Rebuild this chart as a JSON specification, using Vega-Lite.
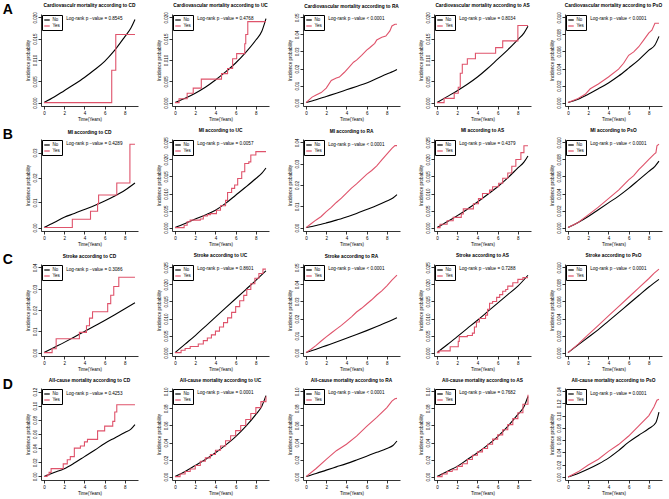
{
"$schema":"https://vega.github.io/schema/vega-lite/v6.json",
"padding":{"left":2,"top":2,"right":2,"bottom":2},
"datasets":{"d":[
{"p":"A1","g":"No","t":0,"y":0},{"p":"A1","g":"No","t":1,"y":0.0013},{"p":"A1","g":"No","t":2,"y":0.0028},{"p":"A1","g":"No","t":3,"y":0.0043},{"p":"A1","g":"No","t":4,"y":0.0059},{"p":"A1","g":"No","t":5,"y":0.0077},{"p":"A1","g":"No","t":6,"y":0.0097},{"p":"A1","g":"No","t":7,"y":0.0123},{"p":"A1","g":"No","t":8,"y":0.0155},{"p":"A1","g":"No","t":8.6,"y":0.0175},{"p":"A1","g":"No","t":9,"y":0.0195},
{"p":"A1","g":"Yes","t":0,"y":0},{"p":"A1","g":"Yes","t":6.7,"y":0.0076},{"p":"A1","g":"Yes","t":7.1,"y":0.016},{"p":"A1","g":"Yes","t":9,"y":0.016},
{"p":"A2","g":"No","t":0,"y":0},{"p":"A2","g":"No","t":1,"y":0.001},{"p":"A2","g":"No","t":2,"y":0.0022},{"p":"A2","g":"No","t":3,"y":0.0036},{"p":"A2","g":"No","t":4,"y":0.0053},{"p":"A2","g":"No","t":5,"y":0.0072},{"p":"A2","g":"No","t":6,"y":0.0093},{"p":"A2","g":"No","t":7,"y":0.0118},{"p":"A2","g":"No","t":8,"y":0.0147},{"p":"A2","g":"No","t":8.6,"y":0.0168},{"p":"A2","g":"No","t":9,"y":0.0197},
{"p":"A2","g":"Yes","t":0,"y":0},{"p":"A2","g":"Yes","t":0.4,"y":0.0009},{"p":"A2","g":"Yes","t":1.2,"y":0.0022},{"p":"A2","g":"Yes","t":1.8,"y":0.0034},{"p":"A2","g":"Yes","t":2.6,"y":0.0055},{"p":"A2","g":"Yes","t":4.6,"y":0.0068},{"p":"A2","g":"Yes","t":5.2,"y":0.008},{"p":"A2","g":"Yes","t":5.7,"y":0.0103},{"p":"A2","g":"Yes","t":6.1,"y":0.0115},{"p":"A2","g":"Yes","t":6.9,"y":0.0138},{"p":"A2","g":"Yes","t":7.0,"y":0.016},{"p":"A2","g":"Yes","t":7.2,"y":0.019},{"p":"A2","g":"Yes","t":9,"y":0.019},
{"p":"A3","g":"No","t":0,"y":0},{"p":"A3","g":"No","t":1,"y":0.0017},{"p":"A3","g":"No","t":2,"y":0.0036},{"p":"A3","g":"No","t":3,"y":0.0055},{"p":"A3","g":"No","t":4,"y":0.0075},{"p":"A3","g":"No","t":5,"y":0.0095},{"p":"A3","g":"No","t":6,"y":0.0115},{"p":"A3","g":"No","t":7,"y":0.0141},{"p":"A3","g":"No","t":8,"y":0.0168},{"p":"A3","g":"No","t":8.6,"y":0.0182},{"p":"A3","g":"No","t":9,"y":0.0194},
{"p":"A3","g":"Yes","t":0,"y":0},{"p":"A3","g":"Yes","t":0.3,"y":0.0016},{"p":"A3","g":"Yes","t":0.6,"y":0.0032},{"p":"A3","g":"Yes","t":1.0,"y":0.0045},{"p":"A3","g":"Yes","t":1.5,"y":0.0059},{"p":"A3","g":"Yes","t":2.0,"y":0.0085},{"p":"A3","g":"Yes","t":2.5,"y":0.013},{"p":"A3","g":"Yes","t":3.0,"y":0.0144},{"p":"A3","g":"Yes","t":3.3,"y":0.015},{"p":"A3","g":"Yes","t":3.8,"y":0.0178},{"p":"A3","g":"Yes","t":4.2,"y":0.0204},{"p":"A3","g":"Yes","t":4.7,"y":0.0237},{"p":"A3","g":"Yes","t":5.0,"y":0.0249},{"p":"A3","g":"Yes","t":5.5,"y":0.0277},{"p":"A3","g":"Yes","t":6.0,"y":0.0308},{"p":"A3","g":"Yes","t":6.3,"y":0.0322},{"p":"A3","g":"Yes","t":6.8,"y":0.0348},{"p":"A3","g":"Yes","t":7.0,"y":0.0368},{"p":"A3","g":"Yes","t":7.5,"y":0.0383},{"p":"A3","g":"Yes","t":7.9,"y":0.0391},{"p":"A3","g":"Yes","t":8.3,"y":0.0421},{"p":"A3","g":"Yes","t":8.5,"y":0.045},{"p":"A3","g":"Yes","t":8.8,"y":0.046},{"p":"A3","g":"Yes","t":9.0,"y":0.046},
{"p":"A4","g":"No","t":0,"y":0},{"p":"A4","g":"No","t":1,"y":0.0014},{"p":"A4","g":"No","t":2,"y":0.0028},{"p":"A4","g":"No","t":3,"y":0.0043},{"p":"A4","g":"No","t":4,"y":0.006},{"p":"A4","g":"No","t":5,"y":0.008},{"p":"A4","g":"No","t":6,"y":0.0102},{"p":"A4","g":"No","t":7,"y":0.0124},{"p":"A4","g":"No","t":8,"y":0.0148},{"p":"A4","g":"No","t":8.6,"y":0.0163},{"p":"A4","g":"No","t":9,"y":0.0179},
{"p":"A4","g":"Yes","t":0,"y":0},{"p":"A4","g":"Yes","t":0.7,"y":0.001},{"p":"A4","g":"Yes","t":1.7,"y":0.0022},{"p":"A4","g":"Yes","t":2.1,"y":0.0036},{"p":"A4","g":"Yes","t":2.3,"y":0.0069},{"p":"A4","g":"Yes","t":2.5,"y":0.009},{"p":"A4","g":"Yes","t":3.0,"y":0.0103},{"p":"A4","g":"Yes","t":3.8,"y":0.0116},{"p":"A4","g":"Yes","t":5.8,"y":0.0129},{"p":"A4","g":"Yes","t":6.5,"y":0.0145},{"p":"A4","g":"Yes","t":8.0,"y":0.0181},{"p":"A4","g":"Yes","t":9,"y":0.0181},
{"p":"A5","g":"No","t":0,"y":0},{"p":"A5","g":"No","t":1,"y":0.0004},{"p":"A5","g":"No","t":2,"y":0.00097},{"p":"A5","g":"No","t":3,"y":0.00162},{"p":"A5","g":"No","t":4,"y":0.00231},{"p":"A5","g":"No","t":5,"y":0.00312},{"p":"A5","g":"No","t":6,"y":0.00405},{"p":"A5","g":"No","t":7,"y":0.00502},{"p":"A5","g":"No","t":8,"y":0.00615},{"p":"A5","g":"No","t":8.6,"y":0.00676},{"p":"A5","g":"No","t":9,"y":0.00777},
{"p":"A5","g":"Yes","t":0,"y":0},{"p":"A5","g":"Yes","t":1,"y":0.00049},{"p":"A5","g":"Yes","t":1.7,"y":0.00097},{"p":"A5","g":"Yes","t":2.2,"y":0.00162},{"p":"A5","g":"Yes","t":3,"y":0.00219},{"p":"A5","g":"Yes","t":4,"y":0.003},{"p":"A5","g":"Yes","t":5,"y":0.00393},{"p":"A5","g":"Yes","t":5.5,"y":0.00462},{"p":"A5","g":"Yes","t":6,"y":0.00555},{"p":"A5","g":"Yes","t":6.5,"y":0.00595},{"p":"A5","g":"Yes","t":7,"y":0.00656},{"p":"A5","g":"Yes","t":7.5,"y":0.00737},{"p":"A5","g":"Yes","t":8,"y":0.00818},{"p":"A5","g":"Yes","t":8.3,"y":0.0085},{"p":"A5","g":"Yes","t":8.6,"y":0.00931},{"p":"A5","g":"Yes","t":9,"y":0.00931},
{"p":"B1","g":"No","t":0,"y":0},{"p":"B1","g":"No","t":1,"y":0.002},{"p":"B1","g":"No","t":2,"y":0.0041},{"p":"B1","g":"No","t":3,"y":0.0056},{"p":"B1","g":"No","t":4,"y":0.0072},{"p":"B1","g":"No","t":5,"y":0.0088},{"p":"B1","g":"No","t":6,"y":0.0106},{"p":"B1","g":"No","t":7,"y":0.0126},{"p":"B1","g":"No","t":8,"y":0.0149},{"p":"B1","g":"No","t":9,"y":0.0178},
{"p":"B1","g":"Yes","t":0,"y":0},{"p":"B1","g":"Yes","t":2.8,"y":0.0033},{"p":"B1","g":"Yes","t":4.6,"y":0.0065},{"p":"B1","g":"Yes","t":5.3,"y":0.0096},{"p":"B1","g":"Yes","t":5.4,"y":0.013},{"p":"B1","g":"Yes","t":7.2,"y":0.0178},{"p":"B1","g":"Yes","t":8.5,"y":0.0333},{"p":"B1","g":"Yes","t":9,"y":0.0333},
{"p":"B2","g":"No","t":0,"y":0},{"p":"B2","g":"No","t":1,"y":0.0012},{"p":"B2","g":"No","t":2,"y":0.0025},{"p":"B2","g":"No","t":3,"y":0.0037},{"p":"B2","g":"No","t":4,"y":0.0051},{"p":"B2","g":"No","t":5,"y":0.0071},{"p":"B2","g":"No","t":6,"y":0.0095},{"p":"B2","g":"No","t":7,"y":0.0119},{"p":"B2","g":"No","t":8,"y":0.0144},{"p":"B2","g":"No","t":8.6,"y":0.016},{"p":"B2","g":"No","t":9,"y":0.0175},
{"p":"B2","g":"Yes","t":0,"y":0},{"p":"B2","g":"Yes","t":0.9,"y":0.0007},{"p":"B2","g":"Yes","t":1.2,"y":0.0017},{"p":"B2","g":"Yes","t":1.5,"y":0.0022},{"p":"B2","g":"Yes","t":2.5,"y":0.0025},{"p":"B2","g":"Yes","t":2.8,"y":0.0034},{"p":"B2","g":"Yes","t":3.2,"y":0.0038},{"p":"B2","g":"Yes","t":3.5,"y":0.0041},{"p":"B2","g":"Yes","t":4.1,"y":0.0051},{"p":"B2","g":"Yes","t":4.5,"y":0.0064},{"p":"B2","g":"Yes","t":5.0,"y":0.008},{"p":"B2","g":"Yes","t":5.2,"y":0.0103},{"p":"B2","g":"Yes","t":5.6,"y":0.0115},{"p":"B2","g":"Yes","t":5.9,"y":0.0125},{"p":"B2","g":"Yes","t":6.2,"y":0.0144},{"p":"B2","g":"Yes","t":6.6,"y":0.0164},{"p":"B2","g":"Yes","t":6.9,"y":0.0188},{"p":"B2","g":"Yes","t":7.3,"y":0.0193},{"p":"B2","g":"Yes","t":7.5,"y":0.0213},{"p":"B2","g":"Yes","t":8.0,"y":0.0223},{"p":"B2","g":"Yes","t":9,"y":0.0223},
{"p":"B3","g":"No","t":0,"y":0},{"p":"B3","g":"No","t":1,"y":0.001},{"p":"B3","g":"No","t":2,"y":0.0022},{"p":"B3","g":"No","t":3,"y":0.0035},{"p":"B3","g":"No","t":4,"y":0.005},{"p":"B3","g":"No","t":5,"y":0.0066},{"p":"B3","g":"No","t":6,"y":0.0085},{"p":"B3","g":"No","t":7,"y":0.0104},{"p":"B3","g":"No","t":8,"y":0.0125},{"p":"B3","g":"No","t":8.6,"y":0.0139},{"p":"B3","g":"No","t":9,"y":0.0155},
{"p":"B3","g":"Yes","t":0,"y":0},{"p":"B3","g":"Yes","t":0.5,"y":0.0018},{"p":"B3","g":"Yes","t":1,"y":0.0036},{"p":"B3","g":"Yes","t":1.5,"y":0.0052},{"p":"B3","g":"Yes","t":2,"y":0.0075},{"p":"B3","g":"Yes","t":2.5,"y":0.0095},{"p":"B3","g":"Yes","t":3,"y":0.0118},{"p":"B3","g":"Yes","t":3.5,"y":0.0138},{"p":"B3","g":"Yes","t":4,"y":0.0162},{"p":"B3","g":"Yes","t":4.5,"y":0.0185},{"p":"B3","g":"Yes","t":5,"y":0.0205},{"p":"B3","g":"Yes","t":5.5,"y":0.0228},{"p":"B3","g":"Yes","t":6,"y":0.025},{"p":"B3","g":"Yes","t":6.5,"y":0.0268},{"p":"B3","g":"Yes","t":7,"y":0.029},{"p":"B3","g":"Yes","t":7.5,"y":0.0318},{"p":"B3","g":"Yes","t":8,"y":0.0345},{"p":"B3","g":"Yes","t":8.5,"y":0.0372},{"p":"B3","g":"Yes","t":8.8,"y":0.0385},{"p":"B3","g":"Yes","t":9,"y":0.0385},
{"p":"B4","g":"No","t":0,"y":0},{"p":"B4","g":"No","t":1,"y":0.0017},{"p":"B4","g":"No","t":2,"y":0.0035},{"p":"B4","g":"No","t":3,"y":0.0054},{"p":"B4","g":"No","t":4,"y":0.0075},{"p":"B4","g":"No","t":5,"y":0.0097},{"p":"B4","g":"No","t":6,"y":0.012},{"p":"B4","g":"No","t":7,"y":0.0146},{"p":"B4","g":"No","t":8,"y":0.0175},{"p":"B4","g":"No","t":8.6,"y":0.0192},{"p":"B4","g":"No","t":9,"y":0.021},
{"p":"B4","g":"Yes","t":0,"y":0},{"p":"B4","g":"Yes","t":0.3,"y":0.001},{"p":"B4","g":"Yes","t":1,"y":0.002},{"p":"B4","g":"Yes","t":1.6,"y":0.003},{"p":"B4","g":"Yes","t":2.4,"y":0.004},{"p":"B4","g":"Yes","t":2.6,"y":0.0055},{"p":"B4","g":"Yes","t":3.6,"y":0.007},{"p":"B4","g":"Yes","t":4.1,"y":0.0085},{"p":"B4","g":"Yes","t":4.5,"y":0.01},{"p":"B4","g":"Yes","t":5.2,"y":0.011},{"p":"B4","g":"Yes","t":5.5,"y":0.012},{"p":"B4","g":"Yes","t":6.1,"y":0.013},{"p":"B4","g":"Yes","t":6.5,"y":0.0145},{"p":"B4","g":"Yes","t":7.0,"y":0.016},{"p":"B4","g":"Yes","t":7.4,"y":0.018},{"p":"B4","g":"Yes","t":7.8,"y":0.02},{"p":"B4","g":"Yes","t":8.3,"y":0.022},{"p":"B4","g":"Yes","t":8.6,"y":0.024},{"p":"B4","g":"Yes","t":9,"y":0.024},
{"p":"B5","g":"No","t":0,"y":0},{"p":"B5","g":"No","t":1,"y":0.0006},{"p":"B5","g":"No","t":2,"y":0.0013},{"p":"B5","g":"No","t":3,"y":0.0021},{"p":"B5","g":"No","t":4,"y":0.0029},{"p":"B5","g":"No","t":5,"y":0.0037},{"p":"B5","g":"No","t":6,"y":0.0046},{"p":"B5","g":"No","t":7,"y":0.0056},{"p":"B5","g":"No","t":8,"y":0.0066},{"p":"B5","g":"No","t":8.6,"y":0.0072},{"p":"B5","g":"No","t":9,"y":0.0078},
{"p":"B5","g":"Yes","t":0,"y":0},{"p":"B5","g":"Yes","t":1,"y":0.0006},{"p":"B5","g":"Yes","t":2,"y":0.0015},{"p":"B5","g":"Yes","t":3,"y":0.0024},{"p":"B5","g":"Yes","t":4,"y":0.0034},{"p":"B5","g":"Yes","t":5,"y":0.0044},{"p":"B5","g":"Yes","t":6,"y":0.0056},{"p":"B5","g":"Yes","t":6.5,"y":0.0061},{"p":"B5","g":"Yes","t":7,"y":0.0068},{"p":"B5","g":"Yes","t":7.5,"y":0.0074},{"p":"B5","g":"Yes","t":8,"y":0.008},{"p":"B5","g":"Yes","t":8.5,"y":0.0086},{"p":"B5","g":"Yes","t":8.7,"y":0.0088},{"p":"B5","g":"Yes","t":8.8,"y":0.0096},{"p":"B5","g":"Yes","t":9,"y":0.0098},
{"p":"C1","g":"No","t":0,"y":0},{"p":"C1","g":"No","t":1,"y":0.0024},{"p":"C1","g":"No","t":2,"y":0.0048},{"p":"C1","g":"No","t":3,"y":0.0073},{"p":"C1","g":"No","t":4,"y":0.0099},{"p":"C1","g":"No","t":5,"y":0.0125},{"p":"C1","g":"No","t":6,"y":0.0151},{"p":"C1","g":"No","t":7,"y":0.0178},{"p":"C1","g":"No","t":8,"y":0.0206},{"p":"C1","g":"No","t":9,"y":0.0234},
{"p":"C1","g":"Yes","t":0,"y":0},{"p":"C1","g":"Yes","t":0.8,"y":0.0018},{"p":"C1","g":"Yes","t":1.2,"y":0.0065},{"p":"C1","g":"Yes","t":3.5,"y":0.0095},{"p":"C1","g":"Yes","t":4.2,"y":0.0126},{"p":"C1","g":"Yes","t":4.5,"y":0.0162},{"p":"C1","g":"Yes","t":4.8,"y":0.0192},{"p":"C1","g":"Yes","t":6.3,"y":0.023},{"p":"C1","g":"Yes","t":6.6,"y":0.0269},{"p":"C1","g":"Yes","t":6.9,"y":0.031},{"p":"C1","g":"Yes","t":7.4,"y":0.0354},{"p":"C1","g":"Yes","t":9,"y":0.0354},
{"p":"C2","g":"No","t":0,"y":0},{"p":"C2","g":"No","t":1,"y":0.0025},{"p":"C2","g":"No","t":2,"y":0.005},{"p":"C2","g":"No","t":3,"y":0.0077},{"p":"C2","g":"No","t":4,"y":0.0104},{"p":"C2","g":"No","t":5,"y":0.0131},{"p":"C2","g":"No","t":6,"y":0.0158},{"p":"C2","g":"No","t":7,"y":0.0185},{"p":"C2","g":"No","t":8,"y":0.0212},{"p":"C2","g":"No","t":9,"y":0.024},
{"p":"C2","g":"Yes","t":0,"y":0},{"p":"C2","g":"Yes","t":0.6,"y":0.0007},{"p":"C2","g":"Yes","t":1.0,"y":0.0012},{"p":"C2","g":"Yes","t":1.5,"y":0.0018},{"p":"C2","g":"Yes","t":2.3,"y":0.0025},{"p":"C2","g":"Yes","t":2.8,"y":0.0035},{"p":"C2","g":"Yes","t":3.2,"y":0.0043},{"p":"C2","g":"Yes","t":3.6,"y":0.0052},{"p":"C2","g":"Yes","t":4.0,"y":0.0063},{"p":"C2","g":"Yes","t":4.4,"y":0.0075},{"p":"C2","g":"Yes","t":4.8,"y":0.0088},{"p":"C2","g":"Yes","t":5.2,"y":0.0102},{"p":"C2","g":"Yes","t":5.6,"y":0.0118},{"p":"C2","g":"Yes","t":6.0,"y":0.0135},{"p":"C2","g":"Yes","t":6.4,"y":0.0152},{"p":"C2","g":"Yes","t":6.8,"y":0.0168},{"p":"C2","g":"Yes","t":7.1,"y":0.0185},{"p":"C2","g":"Yes","t":7.5,"y":0.0202},{"p":"C2","g":"Yes","t":7.9,"y":0.0218},{"p":"C2","g":"Yes","t":8.3,"y":0.0232},{"p":"C2","g":"Yes","t":8.7,"y":0.0245},{"p":"C2","g":"Yes","t":9,"y":0.0245},
{"p":"C3","g":"No","t":0,"y":0},{"p":"C3","g":"No","t":1,"y":0.002},{"p":"C3","g":"No","t":2,"y":0.0041},{"p":"C3","g":"No","t":3,"y":0.0062},{"p":"C3","g":"No","t":4,"y":0.0084},{"p":"C3","g":"No","t":5,"y":0.0106},{"p":"C3","g":"No","t":6,"y":0.0129},{"p":"C3","g":"No","t":7,"y":0.0153},{"p":"C3","g":"No","t":8,"y":0.0178},{"p":"C3","g":"No","t":9,"y":0.0205},
{"p":"C3","g":"Yes","t":0,"y":0},{"p":"C3","g":"Yes","t":0.5,"y":0.002},{"p":"C3","g":"Yes","t":1,"y":0.0042},{"p":"C3","g":"Yes","t":1.5,"y":0.0068},{"p":"C3","g":"Yes","t":2,"y":0.0092},{"p":"C3","g":"Yes","t":2.5,"y":0.0115},{"p":"C3","g":"Yes","t":3,"y":0.0138},{"p":"C3","g":"Yes","t":3.5,"y":0.016},{"p":"C3","g":"Yes","t":4,"y":0.0185},{"p":"C3","g":"Yes","t":4.5,"y":0.021},{"p":"C3","g":"Yes","t":5,"y":0.0238},{"p":"C3","g":"Yes","t":5.5,"y":0.026},{"p":"C3","g":"Yes","t":6,"y":0.0285},{"p":"C3","g":"Yes","t":6.5,"y":0.031},{"p":"C3","g":"Yes","t":7,"y":0.0338},{"p":"C3","g":"Yes","t":7.5,"y":0.0362},{"p":"C3","g":"Yes","t":8,"y":0.0392},{"p":"C3","g":"Yes","t":8.5,"y":0.0425},{"p":"C3","g":"Yes","t":9,"y":0.0455},
{"p":"C4","g":"No","t":0,"y":0},{"p":"C4","g":"No","t":1,"y":0.0023},{"p":"C4","g":"No","t":2,"y":0.0047},{"p":"C4","g":"No","t":3,"y":0.0071},{"p":"C4","g":"No","t":4,"y":0.0095},{"p":"C4","g":"No","t":5,"y":0.012},{"p":"C4","g":"No","t":6,"y":0.0145},{"p":"C4","g":"No","t":7,"y":0.017},{"p":"C4","g":"No","t":8,"y":0.0195},{"p":"C4","g":"No","t":9,"y":0.0227},
{"p":"C4","g":"Yes","t":0,"y":0},{"p":"C4","g":"Yes","t":0.2,"y":0.0005},{"p":"C4","g":"Yes","t":1.3,"y":0.0017},{"p":"C4","g":"Yes","t":2.1,"y":0.0033},{"p":"C4","g":"Yes","t":2.2,"y":0.0047},{"p":"C4","g":"Yes","t":3.0,"y":0.005},{"p":"C4","g":"Yes","t":3.5,"y":0.0057},{"p":"C4","g":"Yes","t":3.7,"y":0.0075},{"p":"C4","g":"Yes","t":3.9,"y":0.009},{"p":"C4","g":"Yes","t":4.2,"y":0.01},{"p":"C4","g":"Yes","t":4.8,"y":0.011},{"p":"C4","g":"Yes","t":5.0,"y":0.0127},{"p":"C4","g":"Yes","t":5.2,"y":0.0145},{"p":"C4","g":"Yes","t":5.5,"y":0.015},{"p":"C4","g":"Yes","t":5.9,"y":0.0162},{"p":"C4","g":"Yes","t":6.2,"y":0.017},{"p":"C4","g":"Yes","t":6.5,"y":0.018},{"p":"C4","g":"Yes","t":6.8,"y":0.0185},{"p":"C4","g":"Yes","t":7.0,"y":0.0195},{"p":"C4","g":"Yes","t":7.5,"y":0.0205},{"p":"C4","g":"Yes","t":8.0,"y":0.0215},{"p":"C4","g":"Yes","t":8.5,"y":0.022},{"p":"C4","g":"Yes","t":9,"y":0.022},
{"p":"C5","g":"No","t":0,"y":0},{"p":"C5","g":"No","t":1,"y":0.0009},{"p":"C5","g":"No","t":2,"y":0.0018},{"p":"C5","g":"No","t":3,"y":0.0027},{"p":"C5","g":"No","t":4,"y":0.0037},{"p":"C5","g":"No","t":5,"y":0.0047},{"p":"C5","g":"No","t":6,"y":0.0057},{"p":"C5","g":"No","t":7,"y":0.0067},{"p":"C5","g":"No","t":8,"y":0.0077},{"p":"C5","g":"No","t":9,"y":0.0086},
{"p":"C5","g":"Yes","t":0,"y":0},{"p":"C5","g":"Yes","t":1,"y":0.001},{"p":"C5","g":"Yes","t":2,"y":0.0021},{"p":"C5","g":"Yes","t":3,"y":0.0032},{"p":"C5","g":"Yes","t":4,"y":0.0043},{"p":"C5","g":"Yes","t":5,"y":0.0054},{"p":"C5","g":"Yes","t":6,"y":0.0065},{"p":"C5","g":"Yes","t":7,"y":0.0076},{"p":"C5","g":"Yes","t":8,"y":0.0087},{"p":"C5","g":"Yes","t":8.5,"y":0.0093},{"p":"C5","g":"Yes","t":9,"y":0.0098},
{"p":"D1","g":"No","t":0,"y":0},{"p":"D1","g":"No","t":1,"y":0.0055},{"p":"D1","g":"No","t":2,"y":0.011},{"p":"D1","g":"No","t":3,"y":0.019},{"p":"D1","g":"No","t":4,"y":0.028},{"p":"D1","g":"No","t":5,"y":0.037},{"p":"D1","g":"No","t":6,"y":0.0467},{"p":"D1","g":"No","t":7,"y":0.0545},{"p":"D1","g":"No","t":8,"y":0.0622},{"p":"D1","g":"No","t":8.6,"y":0.067},{"p":"D1","g":"No","t":9,"y":0.0733},
{"p":"D1","g":"Yes","t":0,"y":0},{"p":"D1","g":"Yes","t":0.3,"y":0.0022},{"p":"D1","g":"Yes","t":0.5,"y":0.0058},{"p":"D1","g":"Yes","t":0.7,"y":0.0111},{"p":"D1","g":"Yes","t":1.9,"y":0.0178},{"p":"D1","g":"Yes","t":2.3,"y":0.0236},{"p":"D1","g":"Yes","t":2.6,"y":0.028},{"p":"D1","g":"Yes","t":3.0,"y":0.04},{"p":"D1","g":"Yes","t":3.6,"y":0.0431},{"p":"D1","g":"Yes","t":4.0,"y":0.0489},{"p":"D1","g":"Yes","t":4.3,"y":0.0524},{"p":"D1","g":"Yes","t":5.3,"y":0.0644},{"p":"D1","g":"Yes","t":6.0,"y":0.0711},{"p":"D1","g":"Yes","t":6.8,"y":0.0778},{"p":"D1","g":"Yes","t":7.0,"y":0.0911},{"p":"D1","g":"Yes","t":7.2,"y":0.1013},{"p":"D1","g":"Yes","t":9,"y":0.1013},
{"p":"D2","g":"No","t":0,"y":0},{"p":"D2","g":"No","t":1,"y":0.006},{"p":"D2","g":"No","t":2,"y":0.013},{"p":"D2","g":"No","t":3,"y":0.02},{"p":"D2","g":"No","t":4,"y":0.028},{"p":"D2","g":"No","t":5,"y":0.037},{"p":"D2","g":"No","t":6,"y":0.047},{"p":"D2","g":"No","t":7,"y":0.059},{"p":"D2","g":"No","t":8,"y":0.073},{"p":"D2","g":"No","t":8.6,"y":0.083},{"p":"D2","g":"No","t":9,"y":0.095},
{"p":"D2","g":"Yes","t":0,"y":0},{"p":"D2","g":"Yes","t":0.5,"y":0.003},{"p":"D2","g":"Yes","t":1,"y":0.006},{"p":"D2","g":"Yes","t":1.5,"y":0.009},{"p":"D2","g":"Yes","t":2,"y":0.013},{"p":"D2","g":"Yes","t":2.5,"y":0.018},{"p":"D2","g":"Yes","t":3,"y":0.022},{"p":"D2","g":"Yes","t":3.5,"y":0.026},{"p":"D2","g":"Yes","t":4,"y":0.031},{"p":"D2","g":"Yes","t":4.5,"y":0.036},{"p":"D2","g":"Yes","t":5,"y":0.042},{"p":"D2","g":"Yes","t":5.5,"y":0.048},{"p":"D2","g":"Yes","t":6,"y":0.054},{"p":"D2","g":"Yes","t":6.5,"y":0.06},{"p":"D2","g":"Yes","t":7,"y":0.067},{"p":"D2","g":"Yes","t":7.5,"y":0.074},{"p":"D2","g":"Yes","t":8,"y":0.081},{"p":"D2","g":"Yes","t":8.5,"y":0.088},{"p":"D2","g":"Yes","t":9,"y":0.094},
{"p":"D3","g":"No","t":0,"y":0},{"p":"D3","g":"No","t":1,"y":0.0036},{"p":"D3","g":"No","t":2,"y":0.0076},{"p":"D3","g":"No","t":3,"y":0.0114},{"p":"D3","g":"No","t":4,"y":0.0152},{"p":"D3","g":"No","t":5,"y":0.0195},{"p":"D3","g":"No","t":6,"y":0.024},{"p":"D3","g":"No","t":7,"y":0.0285},{"p":"D3","g":"No","t":8,"y":0.0331},{"p":"D3","g":"No","t":8.6,"y":0.0365},{"p":"D3","g":"No","t":9,"y":0.0418},
{"p":"D3","g":"Yes","t":0,"y":0},{"p":"D3","g":"Yes","t":1,"y":0.0095},{"p":"D3","g":"Yes","t":2,"y":0.0202},{"p":"D3","g":"Yes","t":3,"y":0.0304},{"p":"D3","g":"Yes","t":3.5,"y":0.0342},{"p":"D3","g":"Yes","t":4,"y":0.038},{"p":"D3","g":"Yes","t":5,"y":0.0475},{"p":"D3","g":"Yes","t":6,"y":0.0589},{"p":"D3","g":"Yes","t":7,"y":0.0696},{"p":"D3","g":"Yes","t":8,"y":0.081},{"p":"D3","g":"Yes","t":8.5,"y":0.0886},{"p":"D3","g":"Yes","t":8.8,"y":0.0913},{"p":"D3","g":"Yes","t":9,"y":0.0918},
{"p":"D4","g":"No","t":0,"y":0},{"p":"D4","g":"No","t":1,"y":0.006},{"p":"D4","g":"No","t":2,"y":0.012},{"p":"D4","g":"No","t":3,"y":0.02},{"p":"D4","g":"No","t":4,"y":0.028},{"p":"D4","g":"No","t":5,"y":0.037},{"p":"D4","g":"No","t":6,"y":0.047},{"p":"D4","g":"No","t":7,"y":0.059},{"p":"D4","g":"No","t":8,"y":0.073},{"p":"D4","g":"No","t":8.6,"y":0.082},{"p":"D4","g":"No","t":9,"y":0.094},
{"p":"D4","g":"Yes","t":0,"y":0},{"p":"D4","g":"Yes","t":0.5,"y":0.003},{"p":"D4","g":"Yes","t":1,"y":0.006},{"p":"D4","g":"Yes","t":1.5,"y":0.008},{"p":"D4","g":"Yes","t":2,"y":0.012},{"p":"D4","g":"Yes","t":2.5,"y":0.015},{"p":"D4","g":"Yes","t":3,"y":0.02},{"p":"D4","g":"Yes","t":3.5,"y":0.025},{"p":"D4","g":"Yes","t":4,"y":0.029},{"p":"D4","g":"Yes","t":4.5,"y":0.033},{"p":"D4","g":"Yes","t":5,"y":0.038},{"p":"D4","g":"Yes","t":5.5,"y":0.044},{"p":"D4","g":"Yes","t":6,"y":0.049},{"p":"D4","g":"Yes","t":6.5,"y":0.055},{"p":"D4","g":"Yes","t":7,"y":0.061},{"p":"D4","g":"Yes","t":7.5,"y":0.068},{"p":"D4","g":"Yes","t":8,"y":0.075},{"p":"D4","g":"Yes","t":8.5,"y":0.085},{"p":"D4","g":"Yes","t":9,"y":0.096},
{"p":"D5","g":"No","t":0,"y":0},{"p":"D5","g":"No","t":1,"y":0.0056},{"p":"D5","g":"No","t":2,"y":0.0128},{"p":"D5","g":"No","t":3,"y":0.021},{"p":"D5","g":"No","t":4,"y":0.0306},{"p":"D5","g":"No","t":5,"y":0.043},{"p":"D5","g":"No","t":6,"y":0.0567},{"p":"D5","g":"No","t":7,"y":0.068},{"p":"D5","g":"No","t":8,"y":0.0789},{"p":"D5","g":"No","t":8.7,"y":0.0889},{"p":"D5","g":"No","t":9,"y":0.1056},
{"p":"D5","g":"Yes","t":0,"y":0},{"p":"D5","g":"Yes","t":1,"y":0.0083},{"p":"D5","g":"Yes","t":2,"y":0.0194},{"p":"D5","g":"Yes","t":3,"y":0.0289},{"p":"D5","g":"Yes","t":4,"y":0.0417},{"p":"D5","g":"Yes","t":5,"y":0.0528},{"p":"D5","g":"Yes","t":6,"y":0.0667},{"p":"D5","g":"Yes","t":7,"y":0.0833},{"p":"D5","g":"Yes","t":8,"y":0.1},{"p":"D5","g":"Yes","t":8.5,"y":0.1139},{"p":"D5","g":"Yes","t":8.8,"y":0.125},{"p":"D5","g":"Yes","t":9,"y":0.1267}
]},
"vconcat":[
{"title":{"text":"A","orient":"left","anchor":"end","angle":0,"fontSize":14,"fontWeight":"bold","offset":2,"baseline":"top"},
"spacing":18,
"resolve":{"scale":{"color":"independent"},"legend":{"color":"independent"}},
"hconcat":[
{"title":"Cardiovasculr mortality according to CD","width":97,"height":92,"data":{"name":"d"},
"encoding":{"x":{"field":"t","type":"quantitative","scale":{"domain":[-0.3,9.3],"nice":false,"zero":false},"axis":{"values":[0,2,4,6,8],"title":"Time(Years)"}},"y":{"field":"y","type":"quantitative","scale":{"domain":[-0.0008,0.0208],"nice":false,"zero":false},"axis":{"values":[0,0.005,0.01,0.015,0.02],"format":".3f","title":"Incidence probability"}}},
"layer":[
{"transform":[{"filter":"datum.p=='A1'&&datum.g=='No'"}],"mark":{"type":"line","interpolate":"monotone","strokeWidth":1.1},"encoding":{"color":{"datum":"No","type":"nominal","scale":{"domain":["No","Yes"],"range":["#000000","#DF536B"]},"legend":{"title":null}}}},
{"transform":[{"filter":"datum.p=='A1'&&datum.g=='Yes'"}],"mark":{"type":"line","interpolate":"step-after","strokeWidth":1.1},"encoding":{"color":{"datum":"Yes","type":"nominal","scale":{"domain":["No","Yes"],"range":["#000000","#DF536B"]},"legend":{"title":null}}}},
{"transform":[{"filter":"datum.p=='A1'&&datum.g=='No'&&datum.t==0"}],"mark":{"type":"text","align":"left","baseline":"middle","fontSize":4.6},"encoding":{"x":{"datum":2.2},"y":{"datum":0.0196},"text":{"value":"Log-rank p −value = 0.8545"}}}
]},
{"title":"Cardiovascular mortality according to UC","width":97,"height":92,"data":{"name":"d"},
"encoding":{"x":{"field":"t","type":"quantitative","scale":{"domain":[-0.3,9.3],"nice":false,"zero":false},"axis":{"values":[0,2,4,6,8],"title":"Time(Years)"}},"y":{"field":"y","type":"quantitative","scale":{"domain":[-0.0008,0.0208],"nice":false,"zero":false},"axis":{"values":[0,0.005,0.01,0.015,0.02],"format":".3f","title":"Incidence probability"}}},
"layer":[
{"transform":[{"filter":"datum.p=='A2'&&datum.g=='No'"}],"mark":{"type":"line","interpolate":"monotone","strokeWidth":1.1},"encoding":{"color":{"datum":"No","type":"nominal","scale":{"domain":["No","Yes"],"range":["#000000","#DF536B"]},"legend":{"title":null}}}},
{"transform":[{"filter":"datum.p=='A2'&&datum.g=='Yes'"}],"mark":{"type":"line","interpolate":"step-after","strokeWidth":1.1},"encoding":{"color":{"datum":"Yes","type":"nominal","scale":{"domain":["No","Yes"],"range":["#000000","#DF536B"]},"legend":{"title":null}}}},
{"transform":[{"filter":"datum.p=='A2'&&datum.g=='No'&&datum.t==0"}],"mark":{"type":"text","align":"left","baseline":"middle","fontSize":4.6},"encoding":{"x":{"datum":2.2},"y":{"datum":0.0196},"text":{"value":"Log-rank p −value = 0.4768"}}}
]},
{"title":"Cardiovascular mortality according to RA","width":97,"height":92,"data":{"name":"d"},
"encoding":{"x":{"field":"t","type":"quantitative","scale":{"domain":[-0.3,9.3],"nice":false,"zero":false},"axis":{"values":[0,2,4,6,8],"title":"Time(Years)"}},"y":{"field":"y","type":"quantitative","scale":{"domain":[-0.002,0.052],"nice":false,"zero":false},"axis":{"values":[0,0.01,0.02,0.03,0.04,0.05],"format":".2f","title":"Incidence probability"}}},
"layer":[
{"transform":[{"filter":"datum.p=='A3'&&datum.g=='No'"}],"mark":{"type":"line","interpolate":"monotone","strokeWidth":1.1},"encoding":{"color":{"datum":"No","type":"nominal","scale":{"domain":["No","Yes"],"range":["#000000","#DF536B"]},"legend":{"title":null}}}},
{"transform":[{"filter":"datum.p=='A3'&&datum.g=='Yes'"}],"mark":{"type":"line","interpolate":"linear","strokeWidth":1.1},"encoding":{"color":{"datum":"Yes","type":"nominal","scale":{"domain":["No","Yes"],"range":["#000000","#DF536B"]},"legend":{"title":null}}}},
{"transform":[{"filter":"datum.p=='A3'&&datum.g=='No'&&datum.t==0"}],"mark":{"type":"text","align":"left","baseline":"middle","fontSize":4.6},"encoding":{"x":{"datum":2.2},"y":{"datum":0.049},"text":{"value":"Log-rank p −value < 0.0001"}}}
]},
{"title":"Cardiovascular mortality according to AS","width":97,"height":92,"data":{"name":"d"},
"encoding":{"x":{"field":"t","type":"quantitative","scale":{"domain":[-0.3,9.3],"nice":false,"zero":false},"axis":{"values":[0,2,4,6,8],"title":"Time(Years)"}},"y":{"field":"y","type":"quantitative","scale":{"domain":[-0.0008,0.0208],"nice":false,"zero":false},"axis":{"values":[0,0.005,0.01,0.015,0.02],"format":".3f","title":"Incidence probability"}}},
"layer":[
{"transform":[{"filter":"datum.p=='A4'&&datum.g=='No'"}],"mark":{"type":"line","interpolate":"monotone","strokeWidth":1.1},"encoding":{"color":{"datum":"No","type":"nominal","scale":{"domain":["No","Yes"],"range":["#000000","#DF536B"]},"legend":{"title":null}}}},
{"transform":[{"filter":"datum.p=='A4'&&datum.g=='Yes'"}],"mark":{"type":"line","interpolate":"step-after","strokeWidth":1.1},"encoding":{"color":{"datum":"Yes","type":"nominal","scale":{"domain":["No","Yes"],"range":["#000000","#DF536B"]},"legend":{"title":null}}}},
{"transform":[{"filter":"datum.p=='A4'&&datum.g=='No'&&datum.t==0"}],"mark":{"type":"text","align":"left","baseline":"middle","fontSize":4.6},"encoding":{"x":{"datum":2.2},"y":{"datum":0.0196},"text":{"value":"Log-rank p −value = 0.8034"}}}
]},
{"title":"Cardiovascular mortality according to PsO","width":97,"height":92,"data":{"name":"d"},
"encoding":{"x":{"field":"t","type":"quantitative","scale":{"domain":[-0.3,9.3],"nice":false,"zero":false},"axis":{"values":[0,2,4,6,8],"title":"Time(Years)"}},"y":{"field":"y","type":"quantitative","scale":{"domain":[-0.0004,0.0104],"nice":false,"zero":false},"axis":{"values":[0,0.002,0.004,0.006,0.008,0.01],"format":".3f","title":"Incidence probability"}}},
"layer":[
{"transform":[{"filter":"datum.p=='A5'&&datum.g=='No'"}],"mark":{"type":"line","interpolate":"monotone","strokeWidth":1.1},"encoding":{"color":{"datum":"No","type":"nominal","scale":{"domain":["No","Yes"],"range":["#000000","#DF536B"]},"legend":{"title":null}}}},
{"transform":[{"filter":"datum.p=='A5'&&datum.g=='Yes'"}],"mark":{"type":"line","interpolate":"linear","strokeWidth":1.1},"encoding":{"color":{"datum":"Yes","type":"nominal","scale":{"domain":["No","Yes"],"range":["#000000","#DF536B"]},"legend":{"title":null}}}},
{"transform":[{"filter":"datum.p=='A5'&&datum.g=='No'&&datum.t==0"}],"mark":{"type":"text","align":"left","baseline":"middle","fontSize":4.6},"encoding":{"x":{"datum":2.2},"y":{"datum":0.0098},"text":{"value":"Log-rank p −value < 0.0001"}}}
]}
]},
{"title":{"text":"B","orient":"left","anchor":"end","angle":0,"fontSize":14,"fontWeight":"bold","offset":2,"baseline":"top"},
"spacing":18,
"resolve":{"scale":{"color":"independent"},"legend":{"color":"independent"}},
"hconcat":[
{"title":"MI according to CD","width":97,"height":92,"data":{"name":"d"},
"encoding":{"x":{"field":"t","type":"quantitative","scale":{"domain":[-0.3,9.3],"nice":false,"zero":false},"axis":{"values":[0,2,4,6,8],"title":"Time(Years)"}},"y":{"field":"y","type":"quantitative","scale":{"domain":[-0.0014,0.0354],"nice":false,"zero":false},"axis":{"values":[0,0.01,0.02,0.03],"format":".2f","title":"Incidence probability"}}},
"layer":[
{"transform":[{"filter":"datum.p=='B1'&&datum.g=='No'"}],"mark":{"type":"line","interpolate":"monotone","strokeWidth":1.1},"encoding":{"color":{"datum":"No","type":"nominal","scale":{"domain":["No","Yes"],"range":["#000000","#DF536B"]},"legend":{"title":null}}}},
{"transform":[{"filter":"datum.p=='B1'&&datum.g=='Yes'"}],"mark":{"type":"line","interpolate":"step-after","strokeWidth":1.1},"encoding":{"color":{"datum":"Yes","type":"nominal","scale":{"domain":["No","Yes"],"range":["#000000","#DF536B"]},"legend":{"title":null}}}},
{"transform":[{"filter":"datum.p=='B1'&&datum.g=='No'&&datum.t==0"}],"mark":{"type":"text","align":"left","baseline":"middle","fontSize":4.6},"encoding":{"x":{"datum":2.2},"y":{"datum":0.0334},"text":{"value":"Log-rank p −value = 0.4289"}}}
]},
{"title":"MI according to UC","width":97,"height":92,"data":{"name":"d"},
"encoding":{"x":{"field":"t","type":"quantitative","scale":{"domain":[-0.3,9.3],"nice":false,"zero":false},"axis":{"values":[0,2,4,6,8],"title":"Time(Years)"}},"y":{"field":"y","type":"quantitative","scale":{"domain":[-0.001,0.026],"nice":false,"zero":false},"axis":{"values":[0,0.005,0.01,0.015,0.02,0.025],"format":".3f","title":"Incidence probability"}}},
"layer":[
{"transform":[{"filter":"datum.p=='B2'&&datum.g=='No'"}],"mark":{"type":"line","interpolate":"monotone","strokeWidth":1.1},"encoding":{"color":{"datum":"No","type":"nominal","scale":{"domain":["No","Yes"],"range":["#000000","#DF536B"]},"legend":{"title":null}}}},
{"transform":[{"filter":"datum.p=='B2'&&datum.g=='Yes'"}],"mark":{"type":"line","interpolate":"step-after","strokeWidth":1.1},"encoding":{"color":{"datum":"Yes","type":"nominal","scale":{"domain":["No","Yes"],"range":["#000000","#DF536B"]},"legend":{"title":null}}}},
{"transform":[{"filter":"datum.p=='B2'&&datum.g=='No'&&datum.t==0"}],"mark":{"type":"text","align":"left","baseline":"middle","fontSize":4.6},"encoding":{"x":{"datum":2.2},"y":{"datum":0.0245},"text":{"value":"Log-rank p −value = 0.0057"}}}
]},
{"title":"MI according to RA","width":97,"height":92,"data":{"name":"d"},
"encoding":{"x":{"field":"t","type":"quantitative","scale":{"domain":[-0.3,9.3],"nice":false,"zero":false},"axis":{"values":[0,2,4,6,8],"title":"Time(Years)"}},"y":{"field":"y","type":"quantitative","scale":{"domain":[-0.0016,0.0416],"nice":false,"zero":false},"axis":{"values":[0,0.01,0.02,0.03,0.04],"format":".2f","title":"Incidence probability"}}},
"layer":[
{"transform":[{"filter":"datum.p=='B3'&&datum.g=='No'"}],"mark":{"type":"line","interpolate":"monotone","strokeWidth":1.1},"encoding":{"color":{"datum":"No","type":"nominal","scale":{"domain":["No","Yes"],"range":["#000000","#DF536B"]},"legend":{"title":null}}}},
{"transform":[{"filter":"datum.p=='B3'&&datum.g=='Yes'"}],"mark":{"type":"line","interpolate":"linear","strokeWidth":1.1},"encoding":{"color":{"datum":"Yes","type":"nominal","scale":{"domain":["No","Yes"],"range":["#000000","#DF536B"]},"legend":{"title":null}}}},
{"transform":[{"filter":"datum.p=='B3'&&datum.g=='No'&&datum.t==0"}],"mark":{"type":"text","align":"left","baseline":"middle","fontSize":4.6},"encoding":{"x":{"datum":2.2},"y":{"datum":0.039},"text":{"value":"Log-rank p −value < 0.0001"}}}
]},
{"title":"MI according to AS","width":97,"height":92,"data":{"name":"d"},
"encoding":{"x":{"field":"t","type":"quantitative","scale":{"domain":[-0.3,9.3],"nice":false,"zero":false},"axis":{"values":[0,2,4,6,8],"title":"Time(Years)"}},"y":{"field":"y","type":"quantitative","scale":{"domain":[-0.001,0.026],"nice":false,"zero":false},"axis":{"values":[0,0.005,0.01,0.015,0.02,0.025],"format":".3f","title":"Incidence probability"}}},
"layer":[
{"transform":[{"filter":"datum.p=='B4'&&datum.g=='No'"}],"mark":{"type":"line","interpolate":"monotone","strokeWidth":1.1},"encoding":{"color":{"datum":"No","type":"nominal","scale":{"domain":["No","Yes"],"range":["#000000","#DF536B"]},"legend":{"title":null}}}},
{"transform":[{"filter":"datum.p=='B4'&&datum.g=='Yes'"}],"mark":{"type":"line","interpolate":"step-after","strokeWidth":1.1},"encoding":{"color":{"datum":"Yes","type":"nominal","scale":{"domain":["No","Yes"],"range":["#000000","#DF536B"]},"legend":{"title":null}}}},
{"transform":[{"filter":"datum.p=='B4'&&datum.g=='No'&&datum.t==0"}],"mark":{"type":"text","align":"left","baseline":"middle","fontSize":4.6},"encoding":{"x":{"datum":2.2},"y":{"datum":0.0245},"text":{"value":"Log-rank p −value = 0.4379"}}}
]},
{"title":"MI according to PsO","width":97,"height":92,"data":{"name":"d"},
"encoding":{"x":{"field":"t","type":"quantitative","scale":{"domain":[-0.3,9.3],"nice":false,"zero":false},"axis":{"values":[0,2,4,6,8],"title":"Time(Years)"}},"y":{"field":"y","type":"quantitative","scale":{"domain":[-0.0004,0.0104],"nice":false,"zero":false},"axis":{"values":[0,0.002,0.004,0.006,0.008,0.01],"format":".3f","title":"Incidence probability"}}},
"layer":[
{"transform":[{"filter":"datum.p=='B5'&&datum.g=='No'"}],"mark":{"type":"line","interpolate":"monotone","strokeWidth":1.1},"encoding":{"color":{"datum":"No","type":"nominal","scale":{"domain":["No","Yes"],"range":["#000000","#DF536B"]},"legend":{"title":null}}}},
{"transform":[{"filter":"datum.p=='B5'&&datum.g=='Yes'"}],"mark":{"type":"line","interpolate":"linear","strokeWidth":1.1},"encoding":{"color":{"datum":"Yes","type":"nominal","scale":{"domain":["No","Yes"],"range":["#000000","#DF536B"]},"legend":{"title":null}}}},
{"transform":[{"filter":"datum.p=='B5'&&datum.g=='No'&&datum.t==0"}],"mark":{"type":"text","align":"left","baseline":"middle","fontSize":4.6},"encoding":{"x":{"datum":2.2},"y":{"datum":0.0098},"text":{"value":"Log-rank p −value < 0.0001"}}}
]}
]},
{"title":{"text":"C","orient":"left","anchor":"end","angle":0,"fontSize":14,"fontWeight":"bold","offset":2,"baseline":"top"},
"spacing":18,
"resolve":{"scale":{"color":"independent"},"legend":{"color":"independent"}},
"hconcat":[
{"title":"Stroke according to CD","width":97,"height":92,"data":{"name":"d"},
"encoding":{"x":{"field":"t","type":"quantitative","scale":{"domain":[-0.3,9.3],"nice":false,"zero":false},"axis":{"values":[0,2,4,6,8],"title":"Time(Years)"}},"y":{"field":"y","type":"quantitative","scale":{"domain":[-0.0016,0.0416],"nice":false,"zero":false},"axis":{"values":[0,0.01,0.02,0.03,0.04],"format":".2f","title":"Incidence probability"}}},
"layer":[
{"transform":[{"filter":"datum.p=='C1'&&datum.g=='No'"}],"mark":{"type":"line","interpolate":"monotone","strokeWidth":1.1},"encoding":{"color":{"datum":"No","type":"nominal","scale":{"domain":["No","Yes"],"range":["#000000","#DF536B"]},"legend":{"title":null}}}},
{"transform":[{"filter":"datum.p=='C1'&&datum.g=='Yes'"}],"mark":{"type":"line","interpolate":"step-after","strokeWidth":1.1},"encoding":{"color":{"datum":"Yes","type":"nominal","scale":{"domain":["No","Yes"],"range":["#000000","#DF536B"]},"legend":{"title":null}}}},
{"transform":[{"filter":"datum.p=='C1'&&datum.g=='No'&&datum.t==0"}],"mark":{"type":"text","align":"left","baseline":"middle","fontSize":4.6},"encoding":{"x":{"datum":2.2},"y":{"datum":0.039},"text":{"value":"Log-rank p −value = 0.3086"}}}
]},
{"title":"Stroke according to UC","width":97,"height":92,"data":{"name":"d"},
"encoding":{"x":{"field":"t","type":"quantitative","scale":{"domain":[-0.3,9.3],"nice":false,"zero":false},"axis":{"values":[0,2,4,6,8],"title":"Time(Years)"}},"y":{"field":"y","type":"quantitative","scale":{"domain":[-0.001,0.026],"nice":false,"zero":false},"axis":{"values":[0,0.005,0.01,0.015,0.02,0.025],"format":".3f","title":"Incidence probability"}}},
"layer":[
{"transform":[{"filter":"datum.p=='C2'&&datum.g=='No'"}],"mark":{"type":"line","interpolate":"monotone","strokeWidth":1.1},"encoding":{"color":{"datum":"No","type":"nominal","scale":{"domain":["No","Yes"],"range":["#000000","#DF536B"]},"legend":{"title":null}}}},
{"transform":[{"filter":"datum.p=='C2'&&datum.g=='Yes'"}],"mark":{"type":"line","interpolate":"step-after","strokeWidth":1.1},"encoding":{"color":{"datum":"Yes","type":"nominal","scale":{"domain":["No","Yes"],"range":["#000000","#DF536B"]},"legend":{"title":null}}}},
{"transform":[{"filter":"datum.p=='C2'&&datum.g=='No'&&datum.t==0"}],"mark":{"type":"text","align":"left","baseline":"middle","fontSize":4.6},"encoding":{"x":{"datum":2.2},"y":{"datum":0.0245},"text":{"value":"Log-rank p −value = 0.8601"}}}
]},
{"title":"Stroke according to RA","width":97,"height":92,"data":{"name":"d"},
"encoding":{"x":{"field":"t","type":"quantitative","scale":{"domain":[-0.3,9.3],"nice":false,"zero":false},"axis":{"values":[0,2,4,6,8],"title":"Time(Years)"}},"y":{"field":"y","type":"quantitative","scale":{"domain":[-0.002,0.052],"nice":false,"zero":false},"axis":{"values":[0,0.01,0.02,0.03,0.04,0.05],"format":".2f","title":"Incidence probability"}}},
"layer":[
{"transform":[{"filter":"datum.p=='C3'&&datum.g=='No'"}],"mark":{"type":"line","interpolate":"monotone","strokeWidth":1.1},"encoding":{"color":{"datum":"No","type":"nominal","scale":{"domain":["No","Yes"],"range":["#000000","#DF536B"]},"legend":{"title":null}}}},
{"transform":[{"filter":"datum.p=='C3'&&datum.g=='Yes'"}],"mark":{"type":"line","interpolate":"linear","strokeWidth":1.1},"encoding":{"color":{"datum":"Yes","type":"nominal","scale":{"domain":["No","Yes"],"range":["#000000","#DF536B"]},"legend":{"title":null}}}},
{"transform":[{"filter":"datum.p=='C3'&&datum.g=='No'&&datum.t==0"}],"mark":{"type":"text","align":"left","baseline":"middle","fontSize":4.6},"encoding":{"x":{"datum":2.2},"y":{"datum":0.049},"text":{"value":"Log-rank p −value < 0.0001"}}}
]},
{"title":"Stroke according to AS","width":97,"height":92,"data":{"name":"d"},
"encoding":{"x":{"field":"t","type":"quantitative","scale":{"domain":[-0.3,9.3],"nice":false,"zero":false},"axis":{"values":[0,2,4,6,8],"title":"Time(Years)"}},"y":{"field":"y","type":"quantitative","scale":{"domain":[-0.001,0.026],"nice":false,"zero":false},"axis":{"values":[0,0.005,0.01,0.015,0.02,0.025],"format":".3f","title":"Incidence probability"}}},
"layer":[
{"transform":[{"filter":"datum.p=='C4'&&datum.g=='No'"}],"mark":{"type":"line","interpolate":"monotone","strokeWidth":1.1},"encoding":{"color":{"datum":"No","type":"nominal","scale":{"domain":["No","Yes"],"range":["#000000","#DF536B"]},"legend":{"title":null}}}},
{"transform":[{"filter":"datum.p=='C4'&&datum.g=='Yes'"}],"mark":{"type":"line","interpolate":"step-after","strokeWidth":1.1},"encoding":{"color":{"datum":"Yes","type":"nominal","scale":{"domain":["No","Yes"],"range":["#000000","#DF536B"]},"legend":{"title":null}}}},
{"transform":[{"filter":"datum.p=='C4'&&datum.g=='No'&&datum.t==0"}],"mark":{"type":"text","align":"left","baseline":"middle","fontSize":4.6},"encoding":{"x":{"datum":2.2},"y":{"datum":0.0245},"text":{"value":"Log-rank p −value = 0.7288"}}}
]},
{"title":"Stroke according to PsO","width":97,"height":92,"data":{"name":"d"},
"encoding":{"x":{"field":"t","type":"quantitative","scale":{"domain":[-0.3,9.3],"nice":false,"zero":false},"axis":{"values":[0,2,4,6,8],"title":"Time(Years)"}},"y":{"field":"y","type":"quantitative","scale":{"domain":[-0.0004,0.0104],"nice":false,"zero":false},"axis":{"values":[0,0.002,0.004,0.006,0.008,0.01],"format":".3f","title":"Incidence probability"}}},
"layer":[
{"transform":[{"filter":"datum.p=='C5'&&datum.g=='No'"}],"mark":{"type":"line","interpolate":"monotone","strokeWidth":1.1},"encoding":{"color":{"datum":"No","type":"nominal","scale":{"domain":["No","Yes"],"range":["#000000","#DF536B"]},"legend":{"title":null}}}},
{"transform":[{"filter":"datum.p=='C5'&&datum.g=='Yes'"}],"mark":{"type":"line","interpolate":"linear","strokeWidth":1.1},"encoding":{"color":{"datum":"Yes","type":"nominal","scale":{"domain":["No","Yes"],"range":["#000000","#DF536B"]},"legend":{"title":null}}}},
{"transform":[{"filter":"datum.p=='C5'&&datum.g=='No'&&datum.t==0"}],"mark":{"type":"text","align":"left","baseline":"middle","fontSize":4.6},"encoding":{"x":{"datum":2.2},"y":{"datum":0.0098},"text":{"value":"Log-rank p −value < 0.0001"}}}
]}
]},
{"title":{"text":"D","orient":"left","anchor":"end","angle":0,"fontSize":14,"fontWeight":"bold","offset":2,"baseline":"top"},
"spacing":18,
"resolve":{"scale":{"color":"independent"},"legend":{"color":"independent"}},
"hconcat":[
{"title":"All-cause mortality according to CD","width":97,"height":92,"data":{"name":"d"},
"encoding":{"x":{"field":"t","type":"quantitative","scale":{"domain":[-0.3,9.3],"nice":false,"zero":false},"axis":{"values":[0,2,4,6,8],"title":"Time(Years)"}},"y":{"field":"y","type":"quantitative","scale":{"domain":[-0.005,0.125],"nice":false,"zero":false},"axis":{"values":[0,0.02,0.04,0.06,0.08,0.1,0.12],"format":".2f","title":"Incidence probability"}}},
"layer":[
{"transform":[{"filter":"datum.p=='D1'&&datum.g=='No'"}],"mark":{"type":"line","interpolate":"monotone","strokeWidth":1.1},"encoding":{"color":{"datum":"No","type":"nominal","scale":{"domain":["No","Yes"],"range":["#000000","#DF536B"]},"legend":{"title":null}}}},
{"transform":[{"filter":"datum.p=='D1'&&datum.g=='Yes'"}],"mark":{"type":"line","interpolate":"step-after","strokeWidth":1.1},"encoding":{"color":{"datum":"Yes","type":"nominal","scale":{"domain":["No","Yes"],"range":["#000000","#DF536B"]},"legend":{"title":null}}}},
{"transform":[{"filter":"datum.p=='D1'&&datum.g=='No'&&datum.t==0"}],"mark":{"type":"text","align":"left","baseline":"middle","fontSize":4.6},"encoding":{"x":{"datum":2.2},"y":{"datum":0.117},"text":{"value":"Log-rank p −value = 0.4253"}}}
]},
{"title":"All-cause mortality according to UC","width":97,"height":92,"data":{"name":"d"},
"encoding":{"x":{"field":"t","type":"quantitative","scale":{"domain":[-0.3,9.3],"nice":false,"zero":false},"axis":{"values":[0,2,4,6,8],"title":"Time(Years)"}},"y":{"field":"y","type":"quantitative","scale":{"domain":[-0.004,0.104],"nice":false,"zero":false},"axis":{"values":[0,0.02,0.04,0.06,0.08,0.1],"format":".2f","title":"Incidence probability"}}},
"layer":[
{"transform":[{"filter":"datum.p=='D2'&&datum.g=='No'"}],"mark":{"type":"line","interpolate":"monotone","strokeWidth":1.1},"encoding":{"color":{"datum":"No","type":"nominal","scale":{"domain":["No","Yes"],"range":["#000000","#DF536B"]},"legend":{"title":null}}}},
{"transform":[{"filter":"datum.p=='D2'&&datum.g=='Yes'"}],"mark":{"type":"line","interpolate":"step-after","strokeWidth":1.1},"encoding":{"color":{"datum":"Yes","type":"nominal","scale":{"domain":["No","Yes"],"range":["#000000","#DF536B"]},"legend":{"title":null}}}},
{"transform":[{"filter":"datum.p=='D2'&&datum.g=='No'&&datum.t==0"}],"mark":{"type":"text","align":"left","baseline":"middle","fontSize":4.6},"encoding":{"x":{"datum":2.2},"y":{"datum":0.098},"text":{"value":"Log-rank p −value = 0.0001"}}}
]},
{"title":"All-cause mortality according to RA","width":97,"height":92,"data":{"name":"d"},
"encoding":{"x":{"field":"t","type":"quantitative","scale":{"domain":[-0.3,9.3],"nice":false,"zero":false},"axis":{"values":[0,2,4,6,8],"title":"Time(Years)"}},"y":{"field":"y","type":"quantitative","scale":{"domain":[-0.004,0.104],"nice":false,"zero":false},"axis":{"values":[0,0.02,0.04,0.06,0.08,0.1],"format":".2f","title":"Incidence probability"}}},
"layer":[
{"transform":[{"filter":"datum.p=='D3'&&datum.g=='No'"}],"mark":{"type":"line","interpolate":"monotone","strokeWidth":1.1},"encoding":{"color":{"datum":"No","type":"nominal","scale":{"domain":["No","Yes"],"range":["#000000","#DF536B"]},"legend":{"title":null}}}},
{"transform":[{"filter":"datum.p=='D3'&&datum.g=='Yes'"}],"mark":{"type":"line","interpolate":"linear","strokeWidth":1.1},"encoding":{"color":{"datum":"Yes","type":"nominal","scale":{"domain":["No","Yes"],"range":["#000000","#DF536B"]},"legend":{"title":null}}}},
{"transform":[{"filter":"datum.p=='D3'&&datum.g=='No'&&datum.t==0"}],"mark":{"type":"text","align":"left","baseline":"middle","fontSize":4.6},"encoding":{"x":{"datum":2.2},"y":{"datum":0.098},"text":{"value":"Log-rank p −value < 0.0001"}}}
]},
{"title":"All-cause mortality according to AS","width":97,"height":92,"data":{"name":"d"},
"encoding":{"x":{"field":"t","type":"quantitative","scale":{"domain":[-0.3,9.3],"nice":false,"zero":false},"axis":{"values":[0,2,4,6,8],"title":"Time(Years)"}},"y":{"field":"y","type":"quantitative","scale":{"domain":[-0.004,0.104],"nice":false,"zero":false},"axis":{"values":[0,0.02,0.04,0.06,0.08,0.1],"format":".2f","title":"Incidence probability"}}},
"layer":[
{"transform":[{"filter":"datum.p=='D4'&&datum.g=='No'"}],"mark":{"type":"line","interpolate":"monotone","strokeWidth":1.1},"encoding":{"color":{"datum":"No","type":"nominal","scale":{"domain":["No","Yes"],"range":["#000000","#DF536B"]},"legend":{"title":null}}}},
{"transform":[{"filter":"datum.p=='D4'&&datum.g=='Yes'"}],"mark":{"type":"line","interpolate":"step-after","strokeWidth":1.1},"encoding":{"color":{"datum":"Yes","type":"nominal","scale":{"domain":["No","Yes"],"range":["#000000","#DF536B"]},"legend":{"title":null}}}},
{"transform":[{"filter":"datum.p=='D4'&&datum.g=='No'&&datum.t==0"}],"mark":{"type":"text","align":"left","baseline":"middle","fontSize":4.6},"encoding":{"x":{"datum":2.2},"y":{"datum":0.098},"text":{"value":"Log-rank p −value = 0.7682"}}}
]},
{"title":"All-cause mortality according to PsO","width":97,"height":92,"data":{"name":"d"},
"encoding":{"x":{"field":"t","type":"quantitative","scale":{"domain":[-0.3,9.3],"nice":false,"zero":false},"axis":{"values":[0,2,4,6,8],"title":"Time(Years)"}},"y":{"field":"y","type":"quantitative","scale":{"domain":[-0.005,0.145],"nice":false,"zero":false},"axis":{"values":[0,0.02,0.04,0.06,0.08,0.1,0.12,0.14],"format":".2f","title":"Incidence probability"}}},
"layer":[
{"transform":[{"filter":"datum.p=='D5'&&datum.g=='No'"}],"mark":{"type":"line","interpolate":"monotone","strokeWidth":1.1},"encoding":{"color":{"datum":"No","type":"nominal","scale":{"domain":["No","Yes"],"range":["#000000","#DF536B"]},"legend":{"title":null}}}},
{"transform":[{"filter":"datum.p=='D5'&&datum.g=='Yes'"}],"mark":{"type":"line","interpolate":"linear","strokeWidth":1.1},"encoding":{"color":{"datum":"Yes","type":"nominal","scale":{"domain":["No","Yes"],"range":["#000000","#DF536B"]},"legend":{"title":null}}}},
{"transform":[{"filter":"datum.p=='D5'&&datum.g=='No'&&datum.t==0"}],"mark":{"type":"text","align":"left","baseline":"middle","fontSize":4.6},"encoding":{"x":{"datum":2.2},"y":{"datum":0.136},"text":{"value":"Log-rank p −value = 0.0001"}}}
]}
]}
],
"spacing":6,
"resolve":{"scale":{"color":"independent"},"legend":{"color":"independent"}},
"config":{
"font":"Liberation Sans",
"view":{"stroke":null},
"axis":{"labelFontSize":4.5,"titleFontSize":4.5,"titleFontWeight":"normal","grid":false,"domainColor":"#000000","tickColor":"#000000","labelColor":"#000000","titleColor":"#000000","tickSize":3,"labelPadding":1,"titlePadding":2,"domainWidth":0.8,"tickWidth":0.8},
"axisY":{"labelAngle":-90,"labelAlign":"center","labelBaseline":"bottom"},
"title":{"fontSize":4.8,"fontWeight":"bold","offset":4,"color":"#000000"},
"legend":{"orient":"top-left","offset":1,"padding":1.5,"strokeColor":"#000000","fillColor":"#ffffff","labelFontSize":4.5,"symbolType":"stroke","symbolStrokeWidth":1.2,"symbolSize":30,"rowPadding":0,"labelOffset":2,"cornerRadius":0}
}
}
